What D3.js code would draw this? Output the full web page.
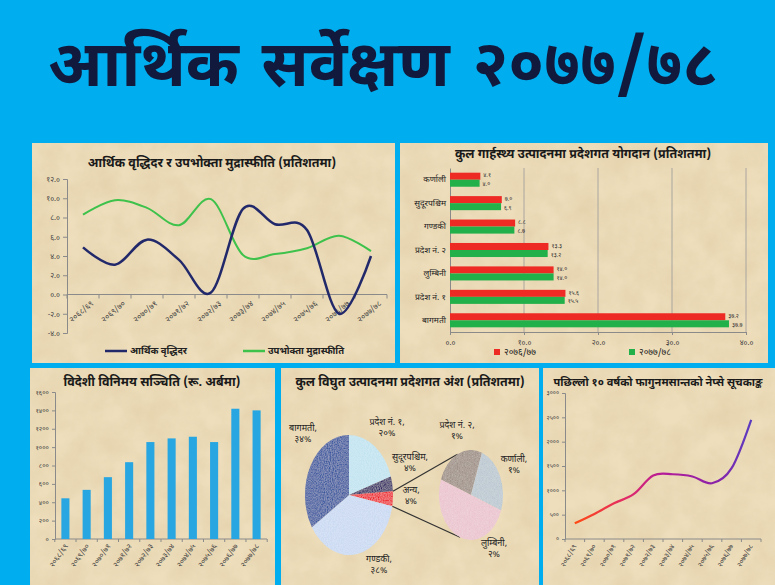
<!DOCTYPE html>
<html>
<head>
<meta charset="utf-8">
<script src="https://cdn.jsdelivr.net/npm/d3@7"></script>
<style>
  body { margin: 0; background: #00aeef; overflow: hidden; }
  svg text { font-family: "Noto Sans Devanagari", "Noto Sans", sans-serif; fill: #222; }
  .axis path, .axis line { stroke: #8a8a8a; }
  .axis text { font-size: 7px; fill: #444; }
</style>
</head>
<body>
<svg id="poster" width="775" height="585"></svg>
<script>
const years = ["२०६८/६९", "२०६९/७०", "२०७०/७१", "२०७१/७२", "२०७२/७३",
               "२०७३/७४", "२०७४/७५", "२०७५/७६", "२०७६/७७", "२०७७/७८"];
const growth = [4.9, 3.1, 5.7, 3.6, 0.2, 8.9, 7.3, 6.7, -2.0, 4.0];
const inflation = [8.3, 9.8, 9.0, 7.2, 9.9, 4.1, 4.2, 4.8, 6.1, 4.5];

const provinces = ["कर्णाली", "सुदूरपश्चिम", "गण्डकी", "प्रदेश नं. २", "लुम्बिनी", "प्रदेश नं. १", "बागमती"];
const gdp7677 = [4.1, 7.0, 8.8, 13.3, 14.0, 15.6, 37.2];
const gdp7778 = [4.0, 6.9, 8.7, 13.2, 14.0, 15.5, 37.7];
const gdpSeries = ["२०७६/७७", "२०७७/७८"];

const forex = [443, 535, 673, 836, 1055, 1095, 1113, 1055, 1418, 1400];

const powerMain = ["प्रदेश नं. १", "सुदूरपश्चिम", "अन्य", "गण्डकी", "बागमती"];
const powerMainShare = [20, 4, 4, 38, 34];
const powerOther = ["प्रदेश नं. २", "कर्णाली", "लुम्बिनी"];
const powerOtherShare = [1, 1, 2];

const nepse = [323, 515, 735, 920, 1305, 1330, 1285, 1145, 1455, 2450];

// western digits -> devanagari digits
const devDigits = "०१२३४५६७८९";
const nep = (s) => String(s).replace(/[0-9]/g, (c) => devDigits[+c]);

const svg = d3.select("#poster");
const defs = svg.append("defs");

// paper texture for the panels
const f = defs.append("filter").attr("id", "paper").attr("x", 0).attr("y", 0).attr("width", 1).attr("height", 1);
f.append("feTurbulence").attr("type", "fractalNoise").attr("baseFrequency", 0.035).attr("numOctaves", 4).attr("seed", 7);
f.append("feColorMatrix").attr("values", "0 0 0 0 0.6  0 0 0 0 0.45  0 0 0 0 0.25  0 0 0 0.4 -0.1");
f.append("feComposite").attr("in2", "SourceGraphic").attr("operator", "in");

// dotted texture for pie slices
const pf = defs.append("filter").attr("id", "grain");
pf.append("feTurbulence").attr("type", "fractalNoise").attr("baseFrequency", 0.9).attr("numOctaves", 1).attr("seed", 2).attr("result", "n");
pf.append("feColorMatrix").attr("in", "n").attr("values", "0 0 0 0 1  0 0 0 0 1  0 0 0 0 1  0 0 0 0.45 -0.1").attr("result", "w");
pf.append("feComposite").attr("in", "w").attr("in2", "SourceGraphic").attr("operator", "in").attr("result", "wc");
const pm = pf.append("feMerge");
pm.append("feMergeNode").attr("in", "SourceGraphic");
pm.append("feMergeNode").attr("in", "wc");

// title
svg.append("text")
  .attr("x", 383).attr("y", 86)
  .attr("text-anchor", "middle")
  .style("font-size", "64px").style("font-weight", 700).style("fill", "#111a3c")
  .style("word-spacing", "6px")
  .text("आर्थिक सर्वेक्षण २०७७/७८");

function panel(x, y, w, h) {
  svg.append("rect").attr("x", x).attr("y", y).attr("width", w).attr("height", h).attr("fill", "#eedebb");
  svg.append("rect").attr("x", x).attr("y", y).attr("width", w).attr("height", h).attr("fill", "#fff").attr("filter", "url(#paper)");
}

function title(x, y, txt, size) {
  svg.append("text").attr("x", x).attr("y", y).attr("text-anchor", "middle")
    .style("font-size", size + "px").style("font-weight", 700).style("fill", "#1a1a1a").text(txt);
}

panel(32, 143, 363, 220);
panel(400, 143, 368, 220);
panel(30, 368, 245, 217);
panel(281, 368, 258, 217);
panel(543, 368, 232, 217);

// ---- growth & inflation line chart ----
function drawGrowth() {
  const x = d3.scaleBand().domain(years).range([67, 387]);
  const y = d3.scaleLinear().domain([-4, 12]).range([333, 179]);

  title(212, 167, "आर्थिक वृद्धिदर र उपभोक्ता मुद्रास्फीति (प्रतिशतमा)", 12.5);

  svg.append("g").attr("class", "axis")
    .attr("transform", "translate(67,0)")
    .call(d3.axisLeft(y).tickValues(d3.range(-4, 13, 2)).tickSize(4).tickFormat((d) => nep(d.toFixed(1))))
    .selectAll("text").style("font-size", "7.5px");

  // zero line with ticks between categories
  const xa = svg.append("g").attr("class", "axis");
  xa.append("line").attr("x1", x.range()[0]).attr("x2", x.range()[1]).attr("y1", y(0)).attr("y2", y(0));
  xa.selectAll(".tk").data(d3.range(years.length + 1)).enter().append("line")
    .attr("x1", (i) => x.range()[0] + i * x.step()).attr("x2", (i) => x.range()[0] + i * x.step())
    .attr("y1", y(0)).attr("y2", y(0) + 4);
  xa.selectAll("text").data(years).enter().append("text")
    .attr("transform", (d) => `translate(${x(d) + x.bandwidth() / 2},${y(0) + 19}) rotate(-40)`)
    .attr("text-anchor", "middle")
    .style("font-size", "8px")
    .text((d) => d);

  const line = (vals) => d3.line()
    .x((d, i) => x(years[i]) + x.bandwidth() / 2)
    .y((d) => y(d))
    .curve(d3.curveCardinal.tension(0))(vals);

  svg.append("path").attr("d", line(inflation)).attr("fill", "none").attr("stroke", "#3ec24c").attr("stroke-width", 2);
  svg.append("path").attr("d", line(growth)).attr("fill", "none").attr("stroke", "#22296b").attr("stroke-width", 2.5);

  // legend
  const lg = [["आर्थिक वृद्धिदर", "#22296b", 105], ["उपभोक्ता मुद्रास्फीति", "#3ec24c", 243]];
  lg.forEach(([t, c, lx]) => {
    svg.append("line").attr("x1", lx).attr("x2", lx + 22).attr("y1", 351).attr("y2", 351).attr("stroke", c).attr("stroke-width", 2.5);
    svg.append("text").attr("x", lx + 25).attr("y", 354).style("font-size", "9.5px").style("font-weight", 700).text(t);
  });
}

// ---- provincial GDP horizontal bars ----
function drawGdp() {
  const x = d3.scaleLinear().domain([0, 40]).range([450, 746]);
  const y = d3.scaleBand().domain(provinces).range([168, 332]).paddingInner(0.4).paddingOuter(0.2);
  const sub = d3.scaleBand().domain([0, 1]).range([0, y.bandwidth()]);
  const colors = ["#ee2a24", "#22b04a"];

  title(583, 158, "कुल गार्हस्थ्य उत्पादनमा प्रदेशगत योगदान (प्रतिशतमा)", 12.5);

  // vertical grid
  svg.append("g").selectAll("line").data([10, 20, 30, 40]).enter().append("line")
    .attr("x1", (d) => x(d)).attr("x2", (d) => x(d)).attr("y1", 168).attr("y2", 332)
    .attr("stroke", "#9a9a9a").attr("stroke-width", 0.8);

  svg.append("g").attr("class", "axis").attr("transform", "translate(0,332)")
    .call(d3.axisBottom(x).tickValues([0, 10, 20, 30, 40]).tickSize(3).tickFormat((d) => nep(d.toFixed(1))))
    .selectAll("text").attr("dy", "0.9em").style("font-size", "7.5px");
  svg.append("g").attr("class", "axis").attr("transform", "translate(450,0)")
    .call(d3.axisLeft(y).tickSize(0).tickPadding(4))
    .selectAll("text").style("font-size", "8.5px").style("fill", "#222");

  const series = [gdp7677, gdp7778];
  series.forEach((vals, s) => {
    const g = svg.append("g");
    g.selectAll("rect").data(vals).enter().append("rect")
      .attr("x", x(0)).attr("y", (d, i) => y(provinces[i]) + sub(s))
      .attr("width", (d) => x(d) - x(0)).attr("height", sub.bandwidth())
      .attr("fill", colors[s]);
    g.selectAll("text").data(vals).enter().append("text")
      .attr("x", (d) => x(d) + 3).attr("y", (d, i) => y(provinces[i]) + sub(s) + sub.bandwidth() / 2 + (s ? 3 : 1.2))
      .style("font-size", "5.8px").style("fill", "#333")
      .text((d) => nep(d.toFixed(1)));
  });

  gdpSeries.forEach((t, s) => {
    const lx = [494, 629][s];
    svg.append("rect").attr("x", lx).attr("y", 349).attr("width", 6).attr("height", 6).attr("fill", colors[s]);
    svg.append("text").attr("x", lx + 10).attr("y", 355).style("font-size", "9px").text(t);
  });
}

// ---- forex reserve bars ----
function drawForex() {
  const x = d3.scaleBand().domain(years).range([55, 267]).paddingInner(0.62).paddingOuter(0.3);
  const y = d3.scaleLinear().domain([0, 1600]).range([539, 392]);

  title(152, 386, "विदेशी विनिमय सञ्चिति (रू. अर्बमा)", 12.5);

  svg.append("g").attr("class", "axis").attr("transform", "translate(55,0)")
    .call(d3.axisLeft(y).tickValues(d3.range(0, 1601, 200)).tickSize(3).tickFormat((d) => nep(d)))
    .selectAll("text").style("font-size", "6.5px");

  const x0 = x(years[0]) - x.step() * x.paddingInner() / 2;
  const xa = svg.append("g").attr("class", "axis");
  xa.append("line").attr("x1", 55).attr("x2", 267).attr("y1", 539).attr("y2", 539);
  xa.selectAll(".tk").data(d3.range(years.length + 1)).enter().append("line")
    .attr("x1", (i) => x0 + i * x.step()).attr("x2", (i) => x0 + i * x.step())
    .attr("y1", 539).attr("y2", 542);
  xa.selectAll("text").data(years).enter().append("text")
    .attr("transform", (d) => `translate(${x(d) + x.bandwidth() / 2 + 3},${546}) rotate(-55)`)
    .attr("text-anchor", "end").style("font-size", "7.5px")
    .text((d) => d);

  svg.append("g").selectAll("rect").data(forex).enter().append("rect")
    .attr("x", (d, i) => x(years[i])).attr("y", (d) => y(d))
    .attr("width", x.bandwidth()).attr("height", (d) => y(0) - y(d))
    .attr("fill", "#27a6e2");
}

// ---- electricity share: pie of pie ----
function drawPower() {
  title(410, 386, "कुल विघुत उत्पादनमा प्रदेशगत अंश (प्रतिशतमा)", 12.5);

  const R = 50;
  const arc = d3.arc().innerRadius(0).outerRadius(R);
  const mainColors = ["#bfe3f0", "#2d1d62", "#ee1d25", "#c9d9f2", "#34549e"];
  const otherColors = ["#9c8d82", "#b9c6cf", "#eac2cd"];

  const main = { cx: 349, cy: 495, rx: 44, ry: 60 };
  const other = { cx: 471, cy: 495, rx: 32, ry: 45 };

  const mainArcs = d3.pie().sort(null).value((d) => d)(powerMainShare);
  const otherArcs = d3.pie().sort(null).value((d) => d)
    .startAngle(-70 * Math.PI / 180).endAngle(290 * Math.PI / 180)(powerOtherShare);

  // connector lines from the "other" slice to the second pie
  const anya = mainArcs[2];
  const pt = (p, a) => [p.cx + p.rx * Math.sin(a), p.cy - p.ry * Math.cos(a)];
  const a1 = pt(main, anya.startAngle), a2 = pt(main, anya.endAngle);
  const b1 = pt(other, -25 * Math.PI / 180), b2 = pt(other, 200 * Math.PI / 180);
  svg.append("line").attr("x1", a1[0]).attr("y1", a1[1]).attr("x2", b1[0]).attr("y2", b1[1]).attr("stroke", "#333").attr("stroke-width", 1.2);
  svg.append("line").attr("x1", a2[0]).attr("y1", a2[1]).attr("x2", b2[0]).attr("y2", b2[1]).attr("stroke", "#333").attr("stroke-width", 1.2);

  const gm = svg.append("g").attr("transform", `translate(${main.cx},${main.cy}) scale(${main.rx / R},${main.ry / R})`);
  gm.selectAll("path").data(mainArcs).enter().append("path")
    .attr("d", arc).attr("fill", (d, i) => mainColors[i]).attr("filter", "url(#grain)");
  const go = svg.append("g").attr("transform", `translate(${other.cx},${other.cy}) scale(${other.rx / R},${other.ry / R})`);
  go.selectAll("path").data(otherArcs).enter().append("path")
    .attr("d", arc).attr("fill", (d, i) => otherColors[i]).attr("filter", "url(#grain)");

  // label placement (annotation layout only)
  const mainLbl = [[387, 425], [410, 460], [411, 493], [379, 562], [303, 431]];
  const otherLbl = [[457, 428], [514, 462], [494, 546]];
  const label = (names, shares, pos) => names.forEach((n, i) => {
    const t = svg.append("text").attr("text-anchor", "middle").style("font-size", "9px");
    t.append("tspan").attr("x", pos[i][0]).attr("y", pos[i][1]).text(n + ",");
    t.append("tspan").attr("x", pos[i][0]).attr("y", pos[i][1] + 11).text(nep(shares[i]) + "%");
  });
  label(powerMain, powerMainShare, mainLbl);
  label(powerOther, powerOtherShare, otherLbl);
}

// ---- NEPSE index line ----
function drawNepse() {
  const x = d3.scaleBand().domain(years).range([565, 761]);
  const y = d3.scaleLinear().domain([0, 3000]).range([539, 393]);

  title(658, 386, "पछिल्लो १० वर्षको फागुनमसान्तको नेप्से सूचकाङ्क", 11);

  svg.append("g").attr("class", "axis").attr("transform", "translate(565,0)")
    .call(d3.axisLeft(y).tickValues(d3.range(0, 3001, 500)).tickSize(3).tickFormat((d) => nep(d)))
    .selectAll("text").style("font-size", "6px");

  const xa = svg.append("g").attr("class", "axis");
  xa.append("line").attr("x1", 565).attr("x2", 761).attr("y1", 539).attr("y2", 539);
  xa.selectAll(".tk").data(d3.range(years.length + 1)).enter().append("line")
    .attr("x1", (i) => 565 + i * x.step()).attr("x2", (i) => 565 + i * x.step())
    .attr("y1", 539).attr("y2", 542);
  xa.selectAll("text").data(years).enter().append("text")
    .attr("transform", (d) => `translate(${x(d) + x.bandwidth() / 2 + 2},${546}) rotate(-60)`)
    .attr("text-anchor", "end").style("font-size", "7px")
    .text((d) => d);

  const cx = (i) => x(years[i]) + x.bandwidth() / 2;
  const grad = defs.append("linearGradient").attr("id", "nepseGrad")
    .attr("gradientUnits", "userSpaceOnUse")
    .attr("x1", cx(0)).attr("x2", cx(years.length - 1)).attr("y1", 0).attr("y2", 0);
  [[0, "#ff4a14"], [0.3, "#e02a6a"], [0.5, "#b41c9a"], [0.8, "#8a23a8"], [1, "#5a3cc0"]].forEach(([o, c]) =>
    grad.append("stop").attr("offset", o).attr("stop-color", c));

  svg.append("path")
    .attr("d", d3.line().x((d, i) => cx(i)).y((d) => y(d)).curve(d3.curveCardinal.tension(0))(nepse))
    .attr("fill", "none").attr("stroke", "url(#nepseGrad)").attr("stroke-width", 2.2);
}

drawGrowth();
drawGdp();
drawForex();
drawPower();
drawNepse();
</script>
</body>
</html>
